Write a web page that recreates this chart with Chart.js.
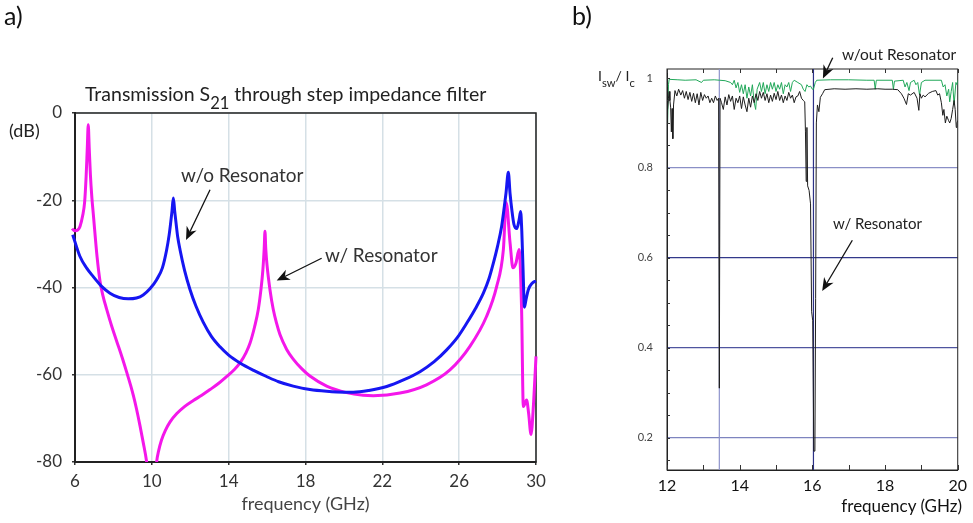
<!DOCTYPE html>
<html><head><meta charset="utf-8">
<script src="https://cdn.jsdelivr.net/npm/chart.js@4.4.1/dist/chart.umd.min.js"></script>
<style>
html,body{margin:0;padding:0;background:#fff;width:973px;height:523px;overflow:hidden;font-family:Lato,'Open Sans',sans-serif;}
#wrap{position:relative;width:973px;height:523px;}
canvas{position:absolute;top:0;}
#ca{left:0;width:560px;height:523px;}
#cb{left:560px;width:413px;height:523px;}
.t{position:absolute;line-height:1;white-space:nowrap;color:#333;}
.t sub{font-size:0.85em;vertical-align:baseline;position:relative;top:0.5em;}
</style></head><body>
<div id="wrap">
<canvas id="ca" width="560" height="523"></canvas>
<canvas id="cb" width="413" height="523"></canvas>
<div class="t" style="left:4px;top:3px;font-size:25px;color:#111">a)</div>
<div class="t" style="left:572px;top:3px;font-size:25px;color:#111">b)</div>
<div class="t" style="left:85px;top:84px;font-size:19.5px;color:#222">Transmission S<sub>21</sub> through step impedance filter</div>
<div class="t" style="left:9px;top:121px;font-size:18px;color:#222">(dB)</div>
<div class="t" style="left:181px;top:165px;font-size:19px;">w/o Resonator</div>
<div class="t" style="left:325px;top:245px;font-size:19px;">w/ Resonator</div>
<div class="t" style="left:842px;top:47px;font-size:15.5px;color:#222">w/out Resonator</div>
<div class="t" style="left:833px;top:216px;font-size:15px;color:#222">w/ Resonator</div>
<div class="t" style="left:598px;top:69px;font-size:14px;color:#222">I<sub style="font-size:0.8em">sw</sub>/ I<sub style="font-size:0.8em">c</sub></div>
<div class="t" style="right:11px;top:497px;font-size:17px;color:#111">frequency (GHz)</div>
</div>
<script>
// ---------- Panel a: Transmission S21 (dB) ----------
const freqNoResA = [5.88,6.26,6.6,6.95,7.4,7.82,8.3,8.77,9.2,9.55,9.9,10.25,10.55,10.77,10.9,10.98,11.05,11.12,11.19,11.26,11.35,11.47,11.7,11.99,12.3,12.68,13.1,13.55,14.0,14.59,15.3,15.97,16.6,17.36,18.23,19.1,20.0,20.49,21.3,22.23,23.1,23.96,24.7,25.35,25.9,26.39,26.85,27.26,27.55,27.78,28.0,28.21,28.35,28.44,28.56,28.65,28.75,28.85,29.0,29.12,29.2,29.26,29.32,29.4,29.47,29.6,29.8,30.0];
const dbNoResA   = [-27.9,-32.9,-35.5,-37.5,-39.8,-41.3,-42.3,-42.6,-42.4,-41.7,-40.3,-38.2,-35.5,-31.4,-28,-25.2,-22.5,-19.5,-22.5,-25.2,-28.5,-31.4,-36,-40.5,-44.3,-48.0,-51.2,-53.6,-55.5,-57.3,-59.0,-60.4,-61.6,-62.6,-63.4,-63.8,-64,-64,-63.6,-62.7,-61.2,-59.3,-57,-54.3,-51.5,-48.2,-44.8,-41.3,-38,-34.4,-30.5,-26,-21.5,-18.3,-13.6,-18.5,-22.5,-25.5,-26.5,-24.5,-22.6,-27,-35,-44.5,-43,-40.5,-39,-38.5];
const freqResA = [5.65,5.85,6.0,6.15,6.26,6.4,6.5,6.58,6.64,6.69,6.74,6.8,6.88,6.95,7.15,7.3,7.45,7.65,7.9,8.17,8.45,8.69,8.9,9.04,9.2,9.38,9.55,9.73,9.85,10.0,10.15,10.25,10.35,10.5,10.7,10.95,11.3,11.7,12.16,12.6,13.03,13.5,13.9,14.3,14.59,14.9,15.11,15.35,15.54,15.68,15.78,15.85,15.89,15.93,16.0,16.15,16.32,16.5,16.67,17.02,17.36,17.8,18.23,19.1,20.14,21.0,21.53,22.92,24.3,25.52,26.56,27.43,27.95,28.3,28.45,28.65,28.8,28.95,29.12,29.25,29.34,29.51,29.62,29.74,29.88,30.0];
const dbResA   = [-24.9,-26.5,-27,-26.8,-26,-23.5,-20.5,-14.5,-8,-2.7,-8,-14,-19.5,-23,-33,-38.5,-41.8,-45,-48.7,-52.3,-56,-59.4,-62.5,-64.8,-67.8,-71.6,-75.5,-80,-85,-100,-86,-80,-77.5,-75,-72.8,-70.8,-68.9,-67.3,-65.9,-64.7,-63.4,-61.9,-60.4,-58.8,-57.3,-55,-52.8,-49,-45.1,-40.5,-36,-31,-27.1,-31,-35,-40.5,-45,-48.3,-50.8,-54.2,-56.4,-58.6,-60.3,-62.6,-64.1,-64.7,-64.8,-64.2,-62.3,-58.9,-53.5,-46.6,-39.8,-31.4,-20.5,-29.8,-35.5,-34.5,-31.3,-45,-67.3,-65.8,-69,-73.7,-66,-55.8];
const xTicksA = [6,10,14,18,22,26,30];
const yTicksA = [0,-20,-40,-60,-80];

// ---------- Panel b: Isw/Ic ----------
const freqNoResB = [12.0,12.01,12.02,12.04,12.06,12.3,12.5,12.8,12.95,13.0,13.3,13.45,13.6,13.75,13.8,13.85,13.9,13.95,14.0,14.05,14.1,14.15,14.2,14.25,14.3,14.35,14.4,14.44,14.48,14.55,14.6,14.65,14.7,14.75,14.8,14.85,14.9,14.95,15.0,15.05,15.1,15.15,15.2,15.25,15.3,15.35,15.4,15.45,15.5,15.6,15.7,15.75,15.8,15.85,15.9,15.95,16.0,16.03,16.08,16.12,16.5,17.0,17.5,17.7,17.73,17.76,18.2,18.23,18.26,18.5,18.55,18.6,18.66,18.7,18.8,18.85,18.9,18.95,19.0,19.1,19.55,19.6,19.65,19.7,19.75,19.78,19.82,19.86,19.9,19.95,19.98,20.0];
const ratioNoResB = [0.98,0.93,0.90,0.985,0.997,0.996,0.995,0.996,0.99,0.995,0.996,0.995,0.994,0.99,0.985,0.995,0.978,0.99,0.968,0.985,0.965,0.985,0.955,0.98,0.96,0.985,0.945,0.93,0.975,0.99,0.97,0.99,0.965,0.985,0.97,0.99,0.975,0.99,0.97,0.985,0.975,0.99,0.965,0.985,0.98,0.99,0.97,0.99,0.995,0.99,0.985,0.975,0.97,0.985,0.98,0.982,0.975,0.975,0.99,0.995,0.996,0.996,0.995,0.995,0.975,0.995,0.995,0.975,0.993,0.995,0.98,0.99,0.972,0.99,0.995,0.985,0.99,0.962,0.99,0.995,0.995,0.98,0.985,0.96,0.975,0.947,0.97,0.99,0.94,0.99,0.985,0.995];
const freqResB = [12.0,12.01,12.02,12.04,12.06,12.08,12.1,12.12,12.14,12.16,12.18,12.22,12.27,12.32,12.38,12.43,12.48,12.53,12.58,12.63,12.68,12.73,12.78,12.83,12.88,12.93,12.98,13.03,13.08,13.13,13.18,13.23,13.28,13.33,13.38,13.42,13.44,13.46,13.5,13.55,13.6,13.65,13.7,13.75,13.8,13.85,13.9,13.95,14.0,14.05,14.1,14.15,14.2,14.25,14.3,14.35,14.4,14.45,14.5,14.55,14.6,14.65,14.7,14.75,14.8,14.85,14.9,14.95,15.0,15.05,15.1,15.15,15.2,15.25,15.3,15.35,15.4,15.45,15.5,15.55,15.6,15.65,15.7,15.75,15.79,15.81,15.83,15.85,15.87,15.91,15.95,15.98,16.01,16.04,16.07,16.09,16.11,16.14,16.18,16.22,16.28,16.34,16.6,16.9,17.2,17.5,17.8,18.0,18.2,18.35,18.45,18.52,18.59,18.64,18.7,18.8,18.88,18.93,18.96,19.0,19.05,19.1,19.2,19.3,19.4,19.45,19.5,19.55,19.59,19.62,19.66,19.7,19.75,19.78,19.82,19.86,19.9,19.93,19.96,19.98,20.0];
const ratioResB = [0.98,0.90,0.93,0.955,0.97,0.95,0.935,0.88,0.932,0.865,0.94,0.972,0.96,0.975,0.962,0.972,0.955,0.97,0.952,0.968,0.948,0.966,0.945,0.965,0.94,0.968,0.95,0.963,0.955,0.96,0.945,0.955,0.945,0.96,0.95,0.955,0.31,0.955,0.945,0.93,0.958,0.94,0.963,0.948,0.96,0.93,0.955,0.945,0.96,0.932,0.958,0.94,0.925,0.955,0.935,0.96,0.945,0.965,0.95,0.97,0.955,0.968,0.95,0.965,0.945,0.962,0.948,0.966,0.952,0.97,0.95,0.962,0.945,0.96,0.95,0.968,0.955,0.962,0.945,0.958,0.96,0.97,0.955,0.95,0.947,0.88,0.77,0.89,0.76,0.75,0.72,0.48,0.46,0.17,0.17,0.51,0.90,0.94,0.925,0.957,0.965,0.974,0.976,0.975,0.976,0.975,0.976,0.975,0.975,0.974,0.965,0.955,0.941,0.965,0.962,0.968,0.955,0.928,0.965,0.955,0.962,0.958,0.966,0.97,0.972,0.962,0.965,0.945,0.917,0.93,0.9,0.915,0.905,0.9,0.91,0.93,0.95,0.93,0.89,0.9,0.905];
const markerFreqsB = [13.44, 16.03];
const xTicksB = [12,14,16,18,20];
const yTicksB = [0.2,0.4,0.6,0.8,1];

// ---------- helpers ----------
const pts = (xs, ys) => xs.map((x, i) => ({x: x, y: ys[i]}));
const FONT = 'Lato, "Open Sans", sans-serif';

function arrowPlugin(list) {
  return {
    id: 'arrows',
    afterDatasetsDraw(chart) {
      const ctx = chart.ctx, sx = chart.scales.x, sy = chart.scales.y;
      list.forEach(a => {
        const x1 = sx.getPixelForValue(a.from[0]), y1 = sy.getPixelForValue(a.from[1]);
        const x2 = sx.getPixelForValue(a.to[0]), y2 = sy.getPixelForValue(a.to[1]);
        const ang = Math.atan2(y2 - y1, x2 - x1), c = Math.cos(ang), s = Math.sin(ang);
        const L = 13, W = 5.5;
        ctx.save();
        ctx.strokeStyle = '#111'; ctx.fillStyle = '#111'; ctx.lineWidth = 1.3;
        ctx.beginPath(); ctx.moveTo(x1, y1); ctx.lineTo(x2 - L * 0.7 * c, y2 - L * 0.7 * s); ctx.stroke();
        ctx.beginPath();
        ctx.moveTo(x2, y2);
        ctx.lineTo(x2 - L * c - W * s, y2 - L * s + W * c);
        ctx.lineTo(x2 - L * 0.7 * c, y2 - L * 0.7 * s);
        ctx.lineTo(x2 - L * c + W * s, y2 - L * s - W * c);
        ctx.closePath(); ctx.fill();
        ctx.restore();
      });
    }
  };
}
const framePlugin = (color, width) => ({
  id: 'frame',
  beforeDatasetsDraw(chart) {
    const a = chart.chartArea, ctx = chart.ctx;
    ctx.save(); ctx.strokeStyle = color; ctx.lineWidth = width;
    ctx.strokeRect(a.left, a.top, a.right - a.left, a.bottom - a.top);
    ctx.restore();
  }
});

// ---------- Chart a ----------
new Chart(document.getElementById('ca'), {
  type: 'line',
  data: {
    datasets: [
      {label: 'w/o Resonator', data: pts(freqNoResA, dbNoResA), borderColor: '#1616f2', borderWidth: 3,
       pointRadius: 0, cubicInterpolationMode: 'monotone', borderJoinStyle: 'round', clip: {left: 10, top: 2, right: 2, bottom: 0}},
      {label: 'w/ Resonator', data: pts(freqResA, dbResA), borderColor: '#f417ea', borderWidth: 3,
       pointRadius: 0, cubicInterpolationMode: 'monotone', borderJoinStyle: 'round', clip: {left: 10, top: 2, right: 2, bottom: 0}}
    ]
  },
  options: {
    responsive: false, animation: false, devicePixelRatio: 1,
    layout: {padding: {left: 0, right: 24, top: 113, bottom: 0}},
    plugins: {legend: {display: false}, tooltip: {enabled: false}},
    scales: {
      x: {type: 'linear', min: 6, max: 30,
          afterBuildTicks: s => { s.ticks = xTicksA.map(v => ({value: v})); },
          ticks: {font: {family: FONT, size: 17}, color: '#333', padding: 6, maxRotation: 0},
          grid: {color: '#d5e0e6', lineWidth: 1.5, tickLength: 3, tickColor: '#333'},
          border: {color: '#222', width: 2},
          title: {display: true, text: 'frequency (GHz)', font: {family: FONT, size: 18}, color: '#444', padding: {top: 0, bottom: 8}},
          afterFit: s => { s.height = 61; }},
      y: {min: -80, max: 0,
          afterBuildTicks: s => { s.ticks = yTicksA.map(v => ({value: v})); },
          ticks: {font: {family: FONT, size: 17}, color: '#333', padding: 10},
          grid: {color: '#d5e0e6', lineWidth: 1.5, tickLength: 3, tickColor: '#333'},
          border: {color: '#222', width: 2},
          afterFit: s => { s.width = 75; }}
    }
  },
  plugins: [framePlugin('#222', 1.5), arrowPlugin([
    {from: [13.03, -17.6], to: [11.78, -29.1]},
    {from: [18.84, -33.3], to: [16.5, -38.4]}
  ])]
});

// ---------- Chart b ----------
const yMinB = 0.128, yMaxB = 1.02;
const gridColB = {0.2: '#7e84bf', 0.4: '#4f559f', 0.6: '#33398a', 0.8: '#8a8fc6'};
const markerColB = ['#8e93cc', '#2c3186'];
const inwardTicks = {
  id: 'inwardTicks',
  afterDraw(chart) {
    const ctx = chart.ctx, a = chart.chartArea, sx = chart.scales.x, sy = chart.scales.y;
    ctx.save(); ctx.strokeStyle = '#333'; ctx.lineWidth = 1;
    ctx.beginPath();
    for (let f = 12; f <= 20; f++) {
      const px = Math.round(sx.getPixelForValue(f)) + 0.5;
      ctx.moveTo(px, a.bottom); ctx.lineTo(px, a.bottom - 5);
      ctx.moveTo(px, a.top); ctx.lineTo(px, a.top + 4);
    }
    for (let k = 3; k <= 20; k++) {
      const py = Math.round(sy.getPixelForValue(k * 0.05)) + 0.5;
      ctx.moveTo(a.left, py); ctx.lineTo(a.left + 3, py);
    }
    ctx.stroke(); ctx.restore();
  }
};
new Chart(document.getElementById('cb'), {
  type: 'line',
  data: {
    datasets: [
      {label: 'w/ Resonator', data: pts(freqResB, ratioResB), borderColor: '#1e1e1e', borderWidth: 1,
       pointRadius: 0, tension: 0, borderJoinStyle: 'bevel'},
      {label: 'w/out Resonator', data: pts(freqNoResB, ratioNoResB), borderColor: '#22a85a', borderWidth: 1,
       pointRadius: 0, tension: 0, borderJoinStyle: 'bevel'},
      ...markerFreqsB.map((f, i) => ({label: 'marker' + i, data: [{x: f, y: yMinB}, {x: f, y: yMaxB}],
        borderColor: markerColB[i], borderWidth: 1.2, pointRadius: 0}))
    ]
  },
  options: {
    responsive: false, animation: false, devicePixelRatio: 1,
    layout: {padding: {left: 0, right: 11, top: 69, bottom: 0}},
    plugins: {legend: {display: false}, tooltip: {enabled: false}},
    scales: {
      x: {type: 'linear', min: 12, max: 20,
          afterBuildTicks: s => { s.ticks = xTicksB.map(v => ({value: v})); },
          ticks: {font: {family: FONT, size: 16}, color: '#111', padding: 6, maxRotation: 0},
          grid: {display: false, drawTicks: false},
          border: {color: '#222', width: 1},
          title: {display: false},
          afterFit: s => { s.height = 53; }},
      y: {min: yMinB, max: yMaxB,
          afterBuildTicks: s => { s.ticks = yTicksB.map(v => ({value: v})); },
          ticks: {font: {family: FONT, size: 11}, color: '#444', padding: 14,
                  callback: v => (v === 1 ? '1' : v.toFixed(1))},
          grid: {drawTicks: false, lineWidth: 1.2,
                 color: c => (c.tick && gridColB[c.tick.value]) ? gridColB[c.tick.value] : 'rgba(0,0,0,0)'},
          border: {color: '#222', width: 1},
          afterFit: s => { s.width = 107; }}
    }
  },
  plugins: [framePlugin('#222', 1), inwardTicks, arrowPlugin([
    {from: [16.56, 1.045], to: [16.29, 0.999]},
    {from: [17.1, 0.639], to: [16.27, 0.526]}
  ])]
});
</script>
</body></html>
